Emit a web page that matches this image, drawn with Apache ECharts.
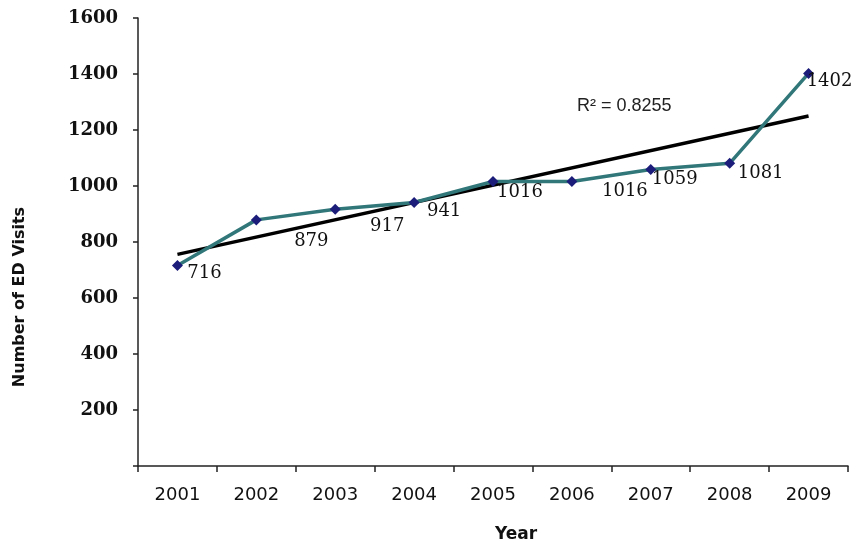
<!DOCTYPE html>
<html>
<head>
<meta charset="utf-8">
<script src="https://cdn.jsdelivr.net/npm/echarts@6/dist/echarts.min.js"></script>
<style>html,body{margin:0;padding:0;background:#fff}#c{width:865px;height:546px}</style>
</head>
<body>
<div id="c"></div>
<script>
const years = ['2001','2002','2003','2004','2005','2006','2007','2008','2009'];
const visits = [716, 879, 917, 941, 1016, 1016, 1059, 1081, 1402];
const yTicks = [0, 200, 400, 600, 800, 1000, 1200, 1400, 1600];
const rSquaredText = 'R² = 0.8255';

// label offsets (px) as placed in the reference
const labelOffsets = [[27,8],[55,21],[52,17],[30,9],[27,11],[53,10],[24,10],[31,10],[21,8]];

// linear trend (least squares) from the data
const n = visits.length;
const mx = (n + 1) / 2;
const my = visits.reduce((a, b) => a + b, 0) / n;
let sxy = 0, sxx = 0;
visits.forEach((v, i) => { const dx = (i + 1) - mx; sxy += dx * v; sxx += dx * dx; });
const slope = sxy / sxx;
const trendData = [[years[0], my + slope * (1 - mx)], [years[n - 1], my + slope * (n - mx)]];

const chart = echarts.init(document.getElementById('c'), null, {renderer: 'canvas'});
chart.setOption({
  animation: false,
  backgroundColor: '#ffffff',
  grid: {left: 138, right: 17, top: 18, bottom: 80},
  xAxis: {
    type: 'category',
    data: years,
    boundaryGap: true,
    axisLine: {lineStyle: {color: '#222', width: 1.5}},
    axisTick: {show: true, length: 6, lineStyle: {color: '#222', width: 1.5}},
    axisLabel: {color: '#111', fontFamily: 'DejaVu Sans', fontSize: 18, margin: 20},
    splitLine: {show: false}
  },
  yAxis: {
    type: 'value',
    min: yTicks[0],
    max: yTicks[yTicks.length - 1],
    interval: 200,
    axisLine: {show: true, lineStyle: {color: '#222', width: 1.5}},
    axisTick: {show: true, length: 5, lineStyle: {color: '#222', width: 1.5}},
    axisLabel: {
      color: '#111', fontFamily: 'DejaVu Serif', fontWeight: 'bold', fontSize: 18, margin: 20,
      formatter: v => v === 0 ? '' : String(v)
    },
    splitLine: {show: false}
  },
  series: [
    {
      type: 'line',
      data: visits.map((v, i) => ({
        value: v,
        label: {offset: labelOffsets[i]}
      })),
      lineStyle: {color: '#31777a', width: 3.5},
      symbol: 'diamond',
      symbolSize: 11,
      itemStyle: {color: '#1c1c7a'},
      z: 3,
      label: {
        show: true,
        position: 'inside',
        align: 'center',
        verticalAlign: 'middle',
        color: '#111',
        fontFamily: 'DejaVu Serif',
        fontSize: 18
      }
    },
    {
      type: 'line',
      data: trendData,
      lineStyle: {color: '#000', width: 3.5},
      symbol: 'none',
      z: 2,
      silent: true
    }
  ],
  graphic: [
    {type: 'text', left: 577, top: 97, style: {text: rSquaredText, font: '18px "Liberation Sans"', fill: '#222'}},
    {type: 'text', left: 495, top: 526, style: {text: 'Year', font: 'bold 17px "DejaVu Sans"', fill: '#111'}},
    {type: 'text', x: 20, y: 297, rotation: Math.PI / 2,
     style: {text: 'Number of ED Visits', font: 'bold 16px "DejaVu Sans"', fill: '#111', align: 'center', verticalAlign: 'middle'}}
  ]
});
</script>
</body>
</html>
